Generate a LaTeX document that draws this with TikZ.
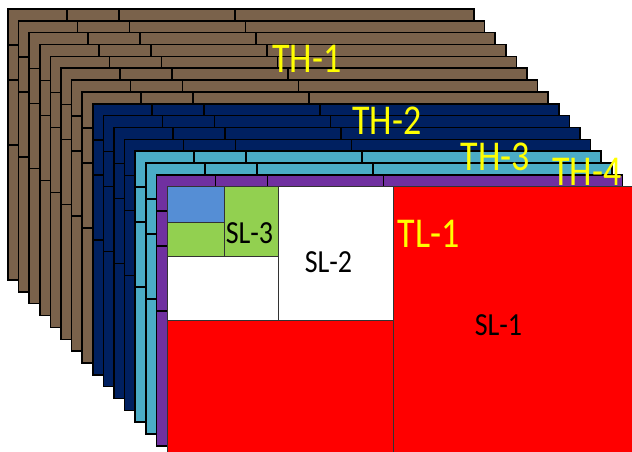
\documentclass[tikz,border=0pt]{standalone}
\usepackage{fontspec}
\setmainfont{Carlito}
\usetikzlibrary{positioning}
\definecolor{thbrown}{HTML}{7A624B}
\definecolor{thnavy}{HTML}{002060}
\definecolor{thaqua}{HTML}{4BACC6}
\definecolor{thpurple}{HTML}{7030A0}
\definecolor{slred}{HTML}{FF0000}
\definecolor{slgreen}{HTML}{92D050}
\definecolor{slblue}{HTML}{558ED5}
\definecolor{lblyellow}{HTML}{FFFF00}
\newcommand{\bigtag}[1]{\fontsize{36}{40}\selectfont\scalebox{1}[1.18]{#1}}
\newcommand{\smalltag}[1]{\fontsize{28}{32}\selectfont\scalebox{1}[1.15]{#1}}

\begin{document}
\begin{tikzpicture}[x=1pt, y=-1pt,
  layer/.style={draw=black, line width=1.5pt},
  brick/.style={draw=black, line width=1.5pt},
  cell/.style={draw=black!80, line width=0.8pt},
  thlabel/.style={text=lblyellow, inner sep=0pt},
  sllabel/.style={text=black, inner sep=0pt}]
  \useasboundingbox (0,0) rectangle (632,452);
  \clip (0,0) rectangle (632,452);
  % stacked layers, back to front
  \foreach \first/\last/\col in {0/7/thbrown, 8/11/thnavy, 12/13/thaqua, 14/14/thpurple} {
    \foreach \k in {\first,...,\last} {
      \pgfmathsetmacro\lx{8+10.6*\k}
      \pgfmathsetmacro\ty{9+11.85*\k}
      \draw[layer, fill=\col] (\lx,\ty) rectangle ++(466,271);
      \foreach \dx in {59,111,227}
        \draw[brick] (\lx+\dx,\ty) -- ++(0,11.85);
      \foreach \dy in {36,71,136}
        \draw[brick] (\lx,\ty+\dy) -- ++(10.6,0);
    }
  }
  % front face
  \fill[slred] (167,186.75) rectangle (640,460);
  \draw[cell, fill=slblue] (167,186.75) rectangle (224,222);
  \draw[cell, fill=slgreen] (167,222) rectangle (224,256);
  \draw[cell, fill=slgreen] (224,186.75) rectangle (278,256);
  \draw[cell, fill=white] (167,256) rectangle (278,320);
  \draw[cell, fill=white] (278,186.75) rectangle (393,320);
  \draw[cell, fill=slred] (393,186.75) rectangle (640,460);
  \draw[cell, fill=slred] (167,320) rectangle (393,460);
  % labels
  \node[thlabel] (th1) at (307,59) {\bigtag{TH-1}};
  \node[thlabel] (th2) at (387,121) {\bigtag{TH-2}};
  \node[thlabel] (th3) at (495.5,156.5) {\bigtag{TH-3}};
  \node[thlabel] (th4) at (587,172) {\bigtag{TH-4}};
  \node[thlabel] (tl1) at (428.5,233.5) {\bigtag{TL-1}};
  \node[sllabel] (sl3) at (249.5,233.5) {\smalltag{SL-3}};
  \node[sllabel] (sl2) at (328.5,262.5) {\smalltag{SL-2}};
  \node[sllabel] (sl1) at (498.5,325) {\smalltag{SL-1}};
\end{tikzpicture}
\end{document}
